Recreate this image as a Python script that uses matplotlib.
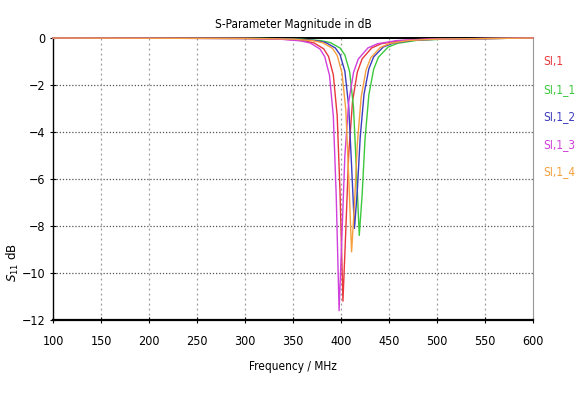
import matplotlib
matplotlib.use("Agg")
import matplotlib.pyplot as plt

plt.rcParams['font.family'] = ['DejaVu Sans']
plt.rcParams['font.stretch'] = 'condensed'

# S11 traces, frequency in MHz, magnitude in dB
f_s11 = [100, 302, 342, 362, 372, 382, 387, 392, 396, 399, 402, 405, 408, 412, 417, 422, 432, 442, 462, 492, 600]
s11 = [0.0, -0.02, -0.054, -0.121, -0.212, -0.462, -0.785, -1.573, -3.30, -6.59, -11.2,
       -8.17, -4.94, -2.69, -1.45, -0.888, -0.421, -0.243, -0.110, -0.049, 0.0]

f_s11_1 = [100, 319, 359, 379, 389, 399, 404, 409, 413, 416, 419, 422, 425, 429, 434, 439, 449, 459, 479, 509, 600]
s11_1 = [0.0, -0.02, -0.050, -0.112, -0.196, -0.426, -0.721, -1.434, -2.95, -5.57, -8.4,
         -6.67, -4.31, -2.42, -1.33, -0.815, -0.388, -0.224, -0.101, -0.046, 0.0]

f_s11_2 = [100, 314, 354, 374, 384, 394, 399, 404, 408, 411, 414, 417, 420, 424, 429, 434, 444, 454, 474, 504, 600]
s11_2 = [0.0, -0.02, -0.050, -0.110, -0.193, -0.421, -0.712, -1.413, -2.90, -5.43, -8.1,
         -6.48, -4.22, -2.38, -1.31, -0.804, -0.383, -0.221, -0.100, -0.045, 0.0]

f_s11_3 = [100, 298, 338, 358, 368, 378, 383, 388, 392, 395, 398, 401, 404, 408, 413, 418, 428, 438, 458, 488, 600]
s11_3 = [0.0, -0.02, -0.055, -0.122, -0.214, -0.465, -0.791, -1.586, -3.34, -6.71, -11.6,
         -8.36, -5.01, -2.72, -1.47, -0.895, -0.424, -0.245, -0.111, -0.049, 0.0]

f_s11_4 = [100, 311, 351, 371, 381, 391, 396, 401, 405, 408, 411, 414, 417, 421, 426, 431, 441, 451, 471, 501, 600]
s11_4 = [0.0, -0.02, -0.051, -0.115, -0.201, -0.437, -0.741, -1.478, -3.06, -5.87, -9.1,
         -7.09, -4.50, -2.51, -1.37, -0.838, -0.399, -0.230, -0.104, -0.047, 0.0]

names = ['SI,1', 'SI,1_1', 'SI,1_2', 'SI,1_3', 'SI,1_4']
colors = ['#e8383c', '#3cc83c', '#3c3cc0', '#d040dc', '#f5a03c']
traces = [(f_s11, s11), (f_s11_1, s11_1), (f_s11_2, s11_2), (f_s11_3, s11_3), (f_s11_4, s11_4)]

x_ticks = list(range(100, 601, 50))
y_ticks = list(range(0, -13, -2))

fig = plt.figure(figsize=(5.8, 4.0), dpi=100)
ax = fig.add_axes([0.0914, 0.2, 0.8276, 0.705])

for (f, s), c in zip(traces, colors):
    ax.plot(f, s, color=c, lw=1.0, clip_on=False, zorder=5)

ax.set_xlim(100, 600)
ax.set_ylim(-12, 0)
ax.set_xticks(x_ticks)
ax.set_yticks(y_ticks)
ax.tick_params(direction='inout', length=5, width=0.8, labelsize=9)
ax.tick_params(axis='x', pad=8)
ax.tick_params(axis='y', pad=3)

# dark dotted rows, light dotted columns
for y in y_ticks[1:-1]:
    ax.axhline(y, color='#555555', lw=0.9, ls=(0, (1, 1.5)), zorder=1)
for x in x_ticks[1:-1]:
    ax.axvline(x, color='#9a9a9a', lw=0.9, ls=(0, (1.5, 2.5)), zorder=1)

ax.spines['left'].set_linewidth(1.0)
ax.spines['bottom'].set_linewidth(1.6)
ax.spines['top'].set_linewidth(1.4)
ax.spines['right'].set_color('#999999')

ax.set_title('S-Parameter Magnitude in dB', fontsize=8.5, pad=7)
ax.set_xlabel('Frequency / MHz', fontsize=8.5, labelpad=9)
fig.text(13 / 580, 1 - 262 / 400, r'$S_{11}$ dB', rotation=90,
         ha='center', va='center', fontsize=9.5)

# series names down the right side
for i, (name, c) in enumerate(zip(names, colors)):
    fig.text(543 / 580, 1 - (62 + 27.5 * i) / 400, name, color=c, fontsize=8.5,
             ha='left', va='center')

fig.savefig('out.png', dpi=100)
